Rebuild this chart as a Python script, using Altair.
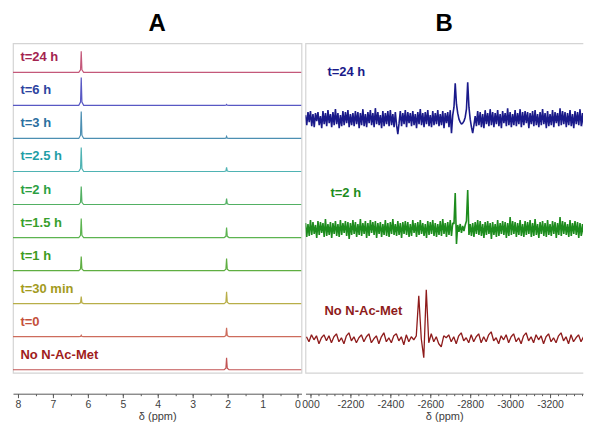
import altair as alt
import pandas as pd

# ---------------- Panel A : 1H spectra (ppm) ----------------
labels_a = ["t=24 h", "t=6 h", "t=3 h", "t=2.5 h", "t=2 h", "t=1.5 h",
            "t=1 h", "t=30 min", "t=0", "No N-Ac-Met"]
peak_ppm_a = [6.19, 2.03]
height_peak1 = [21, 28, 27, 24, 18, 19, 14, 7, 1.5, 0]     # ~6.2 ppm
height_peak2 = [0, 1, 2, 4, 6, 10, 12, 12, 9, 12]          # ~2.0 ppm

line_colors_a = ["#c4587a", "#5858c4", "#4c8fb2", "#4fb3b3", "#52b063",
                 "#5cb450", "#5fae42", "#b8ae48", "#cd6c5c", "#c25454"]
label_colors_a = ["#a3234f", "#2e44a0", "#2b6fa0", "#1f9ea6", "#2c9f43",
                  "#37a02c", "#3d9b1f", "#a39b1e", "#c4503b", "#a01c1c"]

# ---------------- Panel B : spectra (ppm) ----------------
labels_b = ["t=24 h", "t=2 h", "No N-Ac-Met"]
start_b = [-1975.0, -1975.0, -1980.0]
step_ppm_b = [6.25, 6.25, 12.5]
noise_24h = [4, -6, 7, -3, 8, -7, 5, -8, 6, -2, 7, -6, 3, -9, 8, -5,
             6, -7, 9, -4, 5, -8, 7, -6, 10, -5, 6, -9, 4, -7, 8, -6,
             7, -4, 9, -8, 5, -6, 6, -7, 8, -5, 7, -9, 6, -6, 10, -7,
             5, -8, 7, -4, 9, -6, 6, -8, 11, -5, 7, -6, 4, -9, 8, -7,
             6, -5, 8, -7, 9, -6, 5, -8, 7, -6, -15, -4, 8, -7, 6, -5,
             9, -8, 7, -4, 6, -7, 8, -6, 5, -9, 7, -5, 10, -6, 6, -8,
             7, -5, 9, -7, 4, -8, 8, -6, 6, -5, 9, -7, 5, -6, 8, -9,
             6, -4, 7, -8, 9, -14, 4, 12, 36, 15, 6, 0, -3, -5, -4, -2,
             2, 10, 37, 12, 0, -8, -14, -6, 3, -7, 8, -6, 7, -8, 5, -9,
             9, -5, 6, -7, 10, -6, 7, -8, 6, -5, 9, -7, 5, -9, 8, -4,
             6, -7, 11, -6, 7, -8, 5, -6, 9, -7, 6, -5, 10, -8, 7, -6,
             8, -4, 7, -9, 6, -5, 8, -7, 9, -6, 5, -8, 7, -6, 10, -5,
             6, -9, 8, -7, 5, -6, 9, -8, 7, -4, 6, -7, 11, -6, 8, -5,
             7, -8, 6, -6, 9, -7, 5, -9, 8, -5, 7, -6, 10, -7, 6, -8]
noise_2h = [6, -8, 5, -7, 9, -6, 7, -5, 4, -9, 8, -6, 7, -4, 6, -8,
            10, -7, 5, -6, 7, -9, 6, -5, 8, -7, 5, -8, 9, -6, 6, -4,
            8, -7, 7, -10, 6, -6, 9, -5, 7, -8, 5, -6, 10, -7, 6, -5,
            8, -9, 6, -7, 9, -4, 7, -6, 8, -9, 6, -5, 7, -8, 5, -6,
            9, -7, 6, -8, 7, -5, 10, -6, 5, -7, 8, -6, 6, -9, 7, -5,
            8, -6, 7, -8, 5, -7, 9, -4, 6, -8, 7, -6, 9, -5, 6, -7,
            5, -9, 8, -6, 7, -5, 9, -7, 6, -8, 5, -6, 8, -7, 10, -5,
            6, -8, 7, -6, 9, -7, 6, 5, 36, -15, 4, -3, 5, -4, 3, -2,
            4, 8, 39, -6, 5, -7, 6, -8, 7, -5, 9, -6, 8, -7, 5, -9,
            7, -6, 8, -5, 6, -10, 7, -6, 5, -8, 9, -7, 6, -5, 8, -6,
            7, -9, 6, -7, 12, -6, 8, -5, 7, -8, 6, -6, 9, -7, 5, -8,
            8, -6, 7, -5, 9, -8, 6, -7, 10, -6, 5, -9, 7, -5, 8, -7,
            6, -8, 9, -6, 5, -7, 8, -5, 7, -9, 6, -6, 12, -7, 8, -5,
            7, -6, 5, -8, 9, -7, 6, -5, 8, -6, 7, -9, 6, -7, 5, -6]
noise_none = [2, -3, 4, -1, 3, -5, 1, 4, -2, 3,
              -4, 2, 5, -3, 1, -5, 3, 6, -2, 2,
              -4, 1, 4, -3, 2, 5, -4, 0, 3, -5,
              2, 6, -3, 1, -4, 3, 5, -2, 2, -6,
              4, -3, 2, -1, 3, 43, 0, -19, 49, -4,
              5, -3, 2, -5, -8, 3, 1, 4, -3, 2,
              -5, 3, 6, -2, 1, -4, 4, -3, 2, 5,
              -4, 2, -3, 4, 7, -2, 1, -5, 3, -1,
              4, -4, 2, 5, -3, 1, -5, 3, 6, -2,
              2, -4, 4, -1, 3, -5, 2, 5, -3, 1,
              -4, 3, 6, -2, 2, -5, 4, -3, 1, 4,
              -3, 2, -5, 3, 1]
spectra_b = [noise_24h, noise_2h, noise_none]
colors_b = ["#1a1a8a", "#1d8c1d", "#8e1b1b"]
widths_b = [1.6, 1.6, 1.3]
label_x_b = [-2085, -2100, -2070]
label_dy_b = [47, 36, 28]

# ---------------- layout constants ----------------
W_A, W_B, H = 289, 278, 330
dom_a = [-0.114, 8.143]
dom_b = [-3365, -1975]
step_a = 33.1
step_b = 110
peak_shape = [(0.07, 0.0), (0.02, 0.12), (0.0, 1.0), (-0.02, 0.12), (-0.07, 0.0)]

rows_a = []
for i, lab in enumerate(labels_a):
    base = 3 + step_a * (len(labels_a) - 1 - i)
    pts = [(dom_a[1], 0.0)]
    for p, h in zip(peak_ppm_a, (height_peak1[i], height_peak2[i])):
        if h > 0:
            pts += [(p + dx, f * h) for dx, f in peak_shape]
    pts.append((dom_a[0], 0.0))
    for k, (x, y) in enumerate(pts):
        rows_a.append({"trace": lab, "k": k, "x": x, "y": base + y, "c": line_colors_a[i]})
df_a = pd.DataFrame(rows_a)
lab_a = pd.DataFrame({
    "label": labels_a,
    "x": [7.93] * len(labels_a),
    "y": [3 + step_a * (len(labels_a) - 1 - i) + 15 for i in range(len(labels_a))],
    "c": label_colors_a,
})

rows_b = []
for i, (lab, vals) in enumerate(zip(labels_b, spectra_b)):
    base = 34 + step_b * (len(labels_b) - 1 - i)
    for k, v in enumerate(vals):
        rows_b.append({"trace": lab, "k": k, "x": start_b[i] - step_ppm_b[i] * k, "y": base + v,
                       "c": colors_b[i], "w": widths_b[i]})
df_b = pd.DataFrame(rows_b)
lab_b = pd.DataFrame({
    "label": labels_b,
    "x": label_x_b,
    "y": [34 + step_b * (len(labels_b) - 1 - i) + label_dy_b[i] for i in range(len(labels_b))],
    "c": colors_b,
})

major_a = list(range(8, -1, -1))
minor_a = [i / 2 for i in range(16, -1, -1)]
major_b = [-2000 - 200 * i for i in range(7)]
minor_b = [-2000 - 40 * i for i in range(35)]

AX_OFF = 21
major_style = dict(grid=False, offset=AX_OFF, orient="bottom", title="δ (ppm)",
                   labelFontSize=10.5, titleFontSize=11, titleFontWeight="normal",
                   labelFont="Liberation Sans", titleFont="Liberation Sans",
                   labelColor="#404040", titleColor="#404040",
                   domainColor="#595959", tickColor="#595959", tickSize=4,
                   labelPadding=2, titlePadding=0, labelOverlap=False, labelFlush=False)
minor_style = dict(grid=False, offset=AX_OFF, orient="bottom", title=None, labels=False,
                   domain=False, tickColor="#595959", tickSize=2)

axis_a = alt.Axis(values=major_a, labelExpr="'' + datum.value", **major_style)
axis_a_minor = alt.Axis(values=minor_a, **minor_style)
axis_b = alt.Axis(values=major_b,
                  labelExpr="datum.value === -2000 ? '\u00a0\u00a0000' : '' + datum.value",
                  **major_style)
axis_b_minor = alt.Axis(values=minor_b, **minor_style)

ys = alt.Scale(domain=[0, 330], nice=False, zero=False)
sx_a = alt.Scale(domain=dom_a, reverse=True, nice=False, zero=False)
sx_b = alt.Scale(domain=dom_b, reverse=True, nice=False, zero=False)

title_kw = dict(fontSize=24, fontWeight="bold", font="Liberation Sans",
                anchor="middle", offset=7, color="#000000")

lines_a = alt.Chart(df_a).mark_line(strokeWidth=1.2, clip=True).encode(
    x=alt.X("x:Q", scale=sx_a, axis=axis_a), y=alt.Y("y:Q", scale=ys, axis=None),
    color=alt.Color("c:N", scale=None), detail="trace:N", order="k:Q")
text_a = alt.Chart(lab_a).mark_text(align="left", baseline="middle", fontWeight="bold",
                                    fontSize=13, font="Liberation Sans").encode(
    x=alt.X("x:Q", scale=sx_a, axis=axis_a_minor), y=alt.Y("y:Q", scale=ys, axis=None),
    text="label:N", color=alt.Color("c:N", scale=None))
panel_a = alt.layer(lines_a, text_a).resolve_axis(x="independent").properties(
    width=W_A, height=H, title=alt.TitleParams("A", **title_kw))

lines_b = alt.Chart(df_b).mark_line(clip=True, strokeJoin="bevel").encode(
    x=alt.X("x:Q", scale=sx_b, axis=axis_b), y=alt.Y("y:Q", scale=ys, axis=None),
    color=alt.Color("c:N", scale=None), strokeWidth=alt.StrokeWidth("w:Q", scale=None),
    detail="trace:N", order="k:Q")
text_b = alt.Chart(lab_b).mark_text(align="left", baseline="middle", fontWeight="bold",
                                    fontSize=13, font="Liberation Sans").encode(
    x=alt.X("x:Q", scale=sx_b, axis=axis_b_minor), y=alt.Y("y:Q", scale=ys, axis=None),
    text="label:N", color=alt.Color("c:N", scale=None))
panel_b = alt.layer(lines_b, text_b).resolve_axis(x="independent").properties(
    width=W_B, height=H, title=alt.TitleParams("B", **title_kw),
    view=alt.ViewBackground(stroke="#d4d4d4", strokeWidth=1.2,
                            strokeDash=[W_B, H, W_B + H, 0]))

chart = alt.hconcat(panel_a, panel_b, spacing=4, bounds="flush").properties(
    padding={"left": 4, "top": 3, "right": 0, "bottom": 0}
).configure_view(stroke="#d4d4d4", strokeWidth=1.2)

chart.save("out.html", embed_options={"renderer": "svg", "actions": False})
